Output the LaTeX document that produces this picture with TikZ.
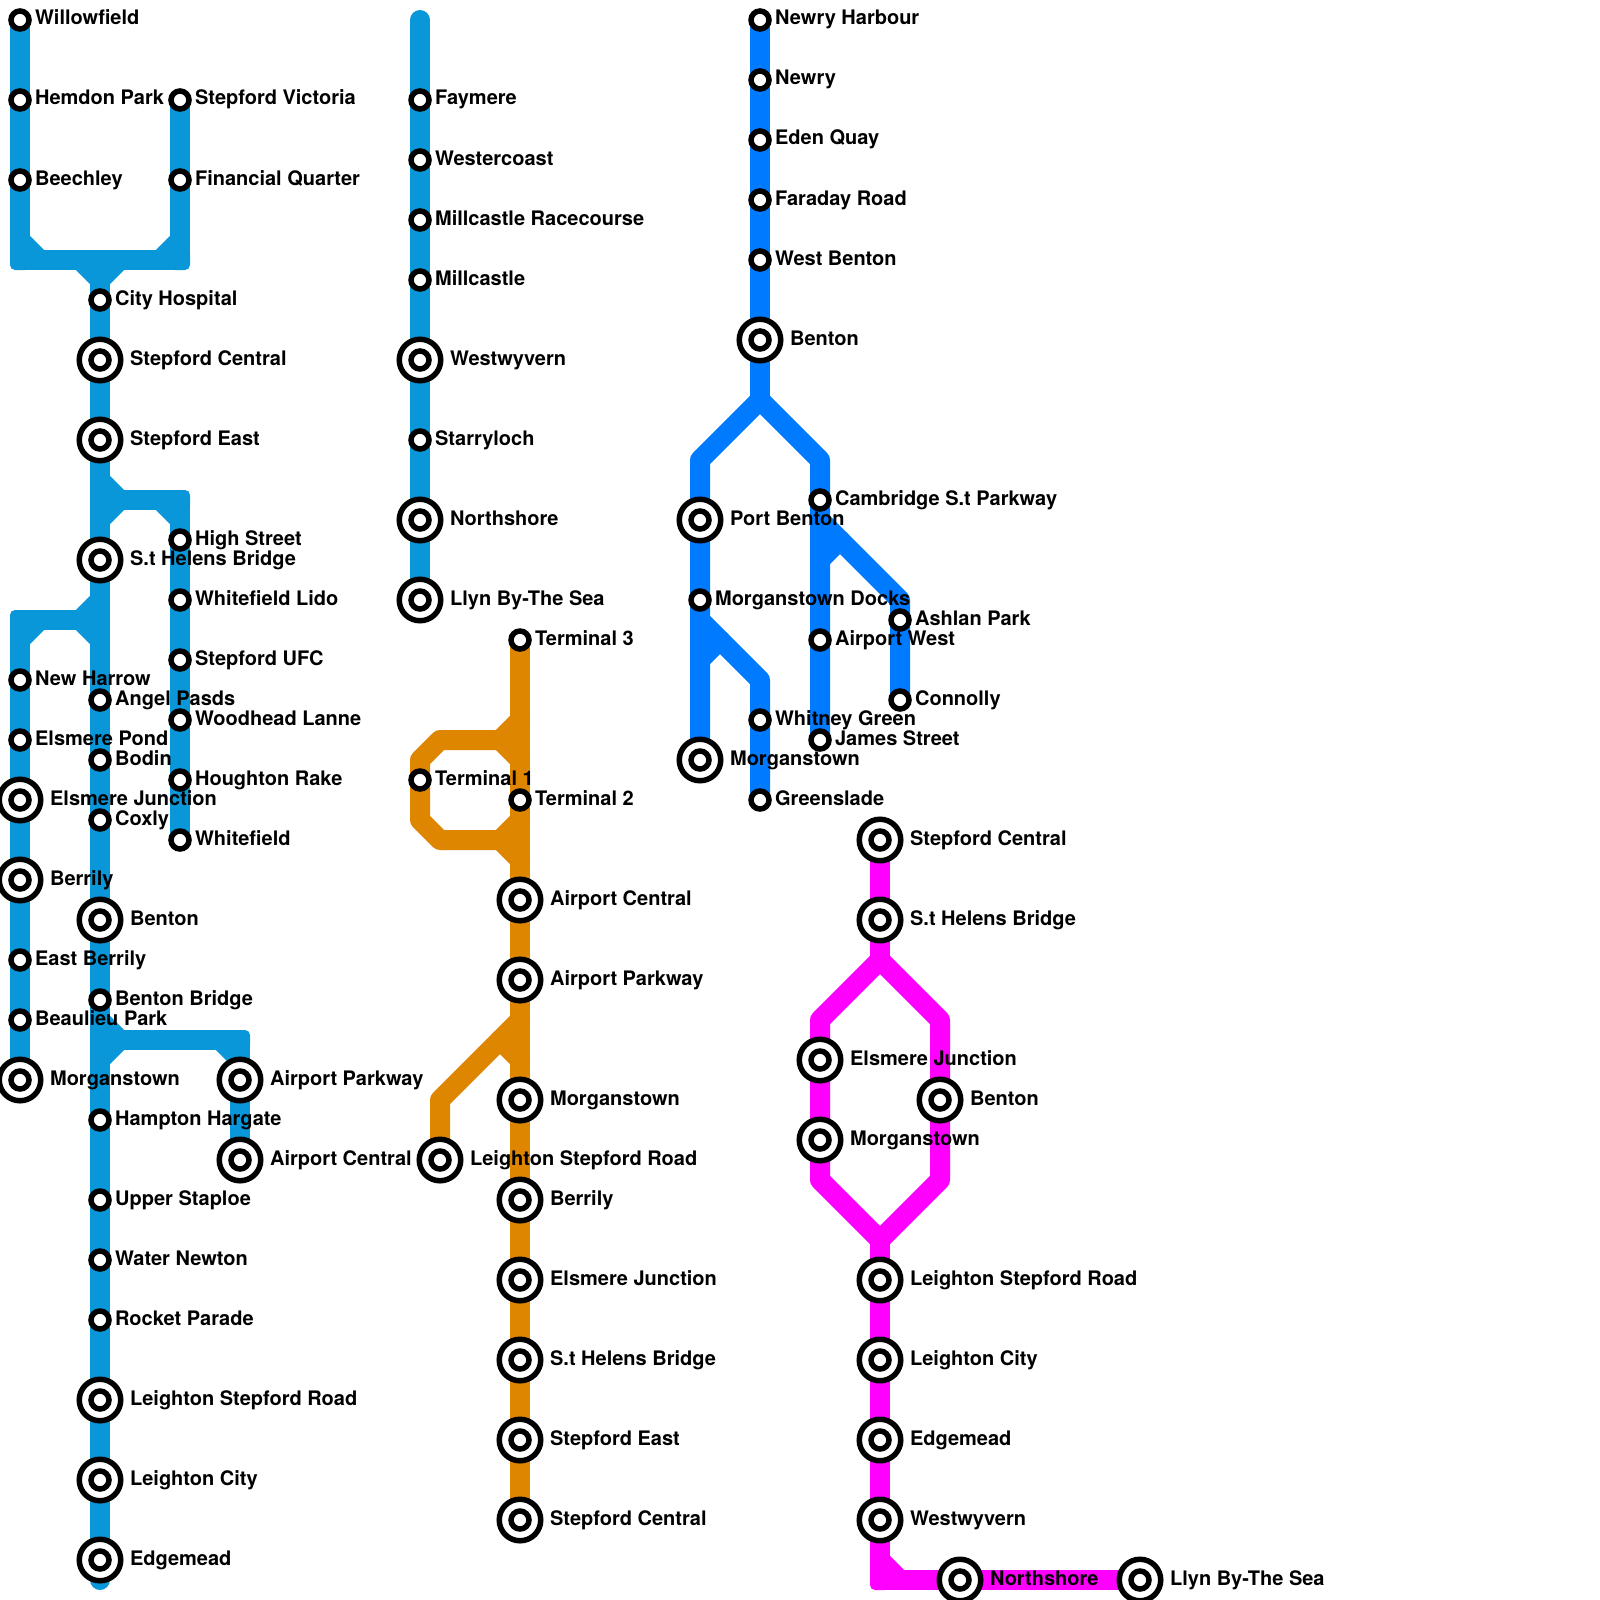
\documentclass[tikz,border=0pt]{standalone}
\usepackage{fontspec}
\setmainfont{TeX Gyre Heros}
\usetikzlibrary{backgrounds,calc}
\definecolor{lineA}{HTML}{0A97D9}
\definecolor{lineB}{HTML}{007BFF}
\definecolor{lineO}{HTML}{DF8600}
\definecolor{lineM}{HTML}{FF00FF}
\newcommand{\stn}[4]{\node[st] (#1) at (#2,#3) {};
  \node[stl] (#1t) at ([xshift=14.9pt,yshift=-5pt]#1.center) {#4};}
\newcommand{\bigstn}[4]{\node[bst] (#1o) at (#2,#3) {};
  \node[st] (#1) at (#2,#3) {};
  \node[stl] (#1t) at ([xshift=29.9pt,yshift=-5pt]#1.center) {#4};}
\tikzset{
  st/.style={circle,draw=black,fill=white,line width=5.5pt,inner sep=0pt,minimum size=18pt},
  bst/.style={st,minimum size=41.5pt},
  stl/.style={anchor=base west,inner sep=0pt,font=\fontsize{20}{24}\selectfont\bfseries},
  ln/.style={line width=20pt,line cap=round,line join=round},
  lnA/.style={ln,draw=lineA},
  lnB/.style={ln,draw=lineB},
  lnO/.style={ln,draw=lineO},
  lnM/.style={ln,draw=lineM},
  crn/.style={rounded corners=5pt,minimum size=20pt,inner sep=0pt,outer sep=0pt},
}
\begin{document}
\begin{tikzpicture}[x=20pt,y=-20pt]
\useasboundingbox (0,0) rectangle (80,80);
% first blue line
\stn{willowfield}{1}{1}{Willowfield}
\stn{hemdon}{1}{5}{Hemdon Park}
\stn{beechley}{1}{9}{Beechley}
\stn{victoria}{9}{5}{Stepford Victoria}
\stn{financial}{9}{9}{Financial Quarter}
\stn{hospital}{5}{15}{City Hospital}
\bigstn{central}{5}{18}{Stepford Central}
\bigstn{east}{5}{22}{Stepford East}
\bigstn{helens}{5}{28}{S.t Helens Bridge}
\stn{highst}{9}{27}{High Street}
\stn{lido}{9}{30}{Whitefield Lido}
\stn{ufc}{9}{33}{Stepford UFC}
\stn{woodhead}{9}{36}{Woodhead Lanne}
\stn{houghton}{9}{39}{Houghton Rake}
\stn{whitefield}{9}{42}{Whitefield}
\stn{harrow}{1}{34}{New Harrow}
\stn{pond}{1}{37}{Elsmere Pond}
\bigstn{elsmere}{1}{40}{Elsmere Junction}
\bigstn{berrily}{1}{44}{Berrily}
\stn{eastb}{1}{48}{East Berrily}
\stn{beaulieu}{1}{51}{Beaulieu Park}
\bigstn{morgan}{1}{54}{Morganstown}
\stn{angel}{5}{35}{Angel Pasds}
\stn{bodin}{5}{38}{Bodin}
\stn{coxly}{5}{41}{Coxly}
\bigstn{benton}{5}{46}{Benton}
\stn{bbridge}{5}{50}{Benton Bridge}
\stn{hampton}{5}{56}{Hampton Hargate}
\stn{staploe}{5}{60}{Upper Staploe}
\stn{newton}{5}{63}{Water Newton}
\stn{rocket}{5}{66}{Rocket Parade}
\bigstn{lsr}{5}{70}{Leighton Stepford Road}
\bigstn{lcity}{5}{74}{Leighton City}
\bigstn{edgemead}{5}{78}{Edgemead}
\bigstn{parkway}{12}{54}{Airport Parkway}
\bigstn{acentral}{12}{58}{Airport Central}
% second line, same colour
\stn{faymere}{21}{5}{Faymere}
\stn{westercoast}{21}{8}{Westercoast}
\stn{racecourse}{21}{11}{Millcastle Racecourse}
\stn{millcastle}{21}{14}{Millcastle}
\bigstn{westwy}{21}{18}{Westwyvern}
\stn{starry}{21}{22}{Starryloch}
\bigstn{north}{21}{26}{Northshore}
\bigstn{llyn}{21}{30}{Llyn By-The Sea}
% orange line
\stn{term3}{26}{32}{Terminal 3}
\stn{term1}{21}{39}{Terminal 1}
\stn{term2}{26}{40}{Terminal 2}
\bigstn{oacentral}{26}{45}{Airport Central}
\bigstn{oparkway}{26}{49}{Airport Parkway}
\bigstn{omorgan}{26}{55}{Morganstown}
\bigstn{olsr}{22}{58}{Leighton Stepford Road}
\bigstn{oberrily}{26}{60}{Berrily}
\bigstn{oelsmere}{26}{64}{Elsmere Junction}
\bigstn{ohelens}{26}{68}{S.t Helens Bridge}
\bigstn{oeast}{26}{72}{Stepford East}
\bigstn{ocentral}{26}{76}{Stepford Central}
% bright blue line
\stn{harbour}{38}{1}{Newry Harbour}
\stn{newry}{38}{4}{Newry}
\stn{eden}{38}{7}{Eden Quay}
\stn{faraday}{38}{10}{Faraday Road}
\stn{wbenton}{38}{13}{West Benton}
\bigstn{bbenton}{38}{17}{Benton}
\bigstn{port}{35}{26}{Port Benton}
\stn{docks}{35}{30}{Morganstown Docks}
\bigstn{bmorgan}{35}{38}{Morganstown}
\stn{whitney}{38}{36}{Whitney Green}
\stn{greenslade}{38}{40}{Greenslade}
\stn{cambridge}{41}{25}{Cambridge S.t Parkway}
\stn{awest}{41}{32}{Airport West}
\stn{james}{41}{37}{James Street}
\stn{ashlan}{45}{31}{Ashlan Park}
\stn{connolly}{45}{35}{Connolly}
% magenta line
\bigstn{mcentral}{44}{42}{Stepford Central}
\bigstn{mhelens}{44}{46}{S.t Helens Bridge}
\bigstn{melsmere}{41}{53}{Elsmere Junction}
\bigstn{mmorgan}{41}{57}{Morganstown}
\bigstn{mbenton}{47}{55}{Benton}
\bigstn{mlsr}{44}{64}{Leighton Stepford Road}
\bigstn{mlcity}{44}{68}{Leighton City}
\bigstn{medgemead}{44}{72}{Edgemead}
\bigstn{mwestwy}{44}{76}{Westwyvern}
\bigstn{mnorth}{48}{79}{Northshore}
\bigstn{mllyn}{57}{79}{Llyn By-The Sea}
\begin{scope}[on background layer]
% bends of the first line
\node[crn,fill=lineA] (a1) at (1,13) {};
\node[crn,fill=lineA] (a2) at (9,13) {};
\node[crn,fill=lineA] (a3) at (9,25) {};
\node[crn,fill=lineA] (a4) at (1,31) {};
\node[crn,fill=lineA] (a5) at (12,52) {};
\coordinate (j1) at (5,14);
\coordinate (j2) at (6,25);
\coordinate (j3) at (4,31);
\coordinate (j4) at (6,52);
\coordinate (aend) at (5,79);
\draw[lnA] (willowfield.center) -- (a1.center) -- (a2.center) -- (victoria.center);
\draw[lnA] ($(a1)+(0,-1)$) -- ($(a1)+(1,0)$);
\draw[lnA] ($(a2)+(0,-1)$) -- ($(a2)+(-1,0)$);
\draw[lnA] ($(j1)+(-1,-1)$) -- (j1) -- ($(j1)+(1,-1)$);
\draw[lnA] (j1) -- (aend);
\draw[lnA] ($(j2)+(-1,-1)$) -- (j2) -- ($(j2)+(-1,1)$);
\draw[lnA] (j2) -- (a3.center) -- (whitefield.center);
\draw[lnA] ($(a3)+(-1,0)$) -- ($(a3)+(0,1)$);
\draw[lnA] ($(j3)+(1,-1)$) -- (j3) -- ($(j3)+(1,1)$);
\draw[lnA] (j3) -- (a4.center) -- (morgan.center);
\draw[lnA] ($(a4)+(1,0)$) -- ($(a4)+(0,1)$);
\draw[lnA] ($(j4)+(-1,-1)$) -- (j4) -- ($(j4)+(-1,1)$);
\draw[lnA] (j4) -- (a5.center) -- (acentral.center);
\draw[lnA] ($(a5)+(-1,0)$) -- ($(a5)+(0,1)$);
% second line
\coordinate (w0) at (21,1);
\draw[lnA] (w0) -- (llyn.center);
% orange
\coordinate (o1) at (25,37);
\coordinate (o2) at (22,37);
\coordinate (o3) at (21,38);
\coordinate (o4) at (21,41);
\coordinate (o5) at (22,42);
\coordinate (o6) at (25,42);
\coordinate (o7) at (25,52);
\coordinate (o8) at (22,55);
\draw[lnO] (term3.center) -- (ocentral.center);
\draw[lnO] ($(o1)+(1,-1)$) -- (o1) -- ($(o1)+(1,1)$);
\draw[lnO] (o1) -- (o2) -- (o3) -- (o4) -- (o5) -- (o6);
\draw[lnO] ($(o6)+(1,-1)$) -- (o6) -- ($(o6)+(1,1)$);
\draw[lnO] ($(o7)+(1,-1)$) -- (o7) -- ($(o7)+(1,1)$);
\draw[lnO] (o7) -- (o8) -- (olsr.center);
% bright blue
\coordinate (b1) at (38,20);
\coordinate (b2) at (35,23);
\coordinate (b3) at (41,23);
\coordinate (b4) at (36,32);
\coordinate (b5) at (38,34);
\coordinate (b6) at (42,27);
\coordinate (b7) at (45,30);
\draw[lnB] (harbour.center) -- (b1);
\draw[lnB] (bmorgan.center) -- (b2) -- (b1) -- (b3) -- (james.center);
\draw[lnB] ($(b4)+(-1,1)$) -- (b4);
\draw[lnB] ($(b5)+(-3,-3)$) -- (b5) -- (greenslade.center);
\draw[lnB] ($(b6)+(-1,1)$) -- (b6);
\draw[lnB] ($(b7)+(-4,-4)$) -- (b7) -- (connolly.center);
% magenta
\node[crn,fill=lineM] (m7) at (44,79) {};
\coordinate (m1) at (44,48);
\coordinate (m2) at (41,51);
\coordinate (m3) at (47,51);
\coordinate (m4) at (41,59);
\coordinate (m5) at (47,59);
\coordinate (m6) at (44,62);
\draw[lnM] (mcentral.center) -- (m1);
\draw[lnM] (m1) -- (m2) -- (m4) -- (m6) -- (m5) -- (m3) -- cycle;
\draw[lnM] (m6) -- (m7.center) -- (mllyn.center);
\draw[lnM] ($(m7)+(0,-1)$) -- ($(m7)+(1,0)$);
\end{scope}
\end{tikzpicture}
\end{document}
